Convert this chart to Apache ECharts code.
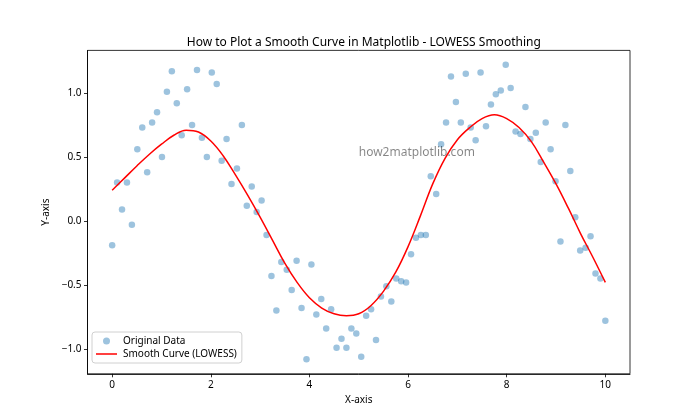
<!DOCTYPE html>
<html><head><meta charset="utf-8">
<script src="https://cdn.jsdelivr.net/npm/echarts@6/dist/echarts.min.js"></script>
<style>html,body{margin:0;padding:0;background:#fff}#c{width:700px;height:420px}</style>
</head><body><div id="c"></div>
<script>
// ---- data ----
const titleText = 'How to Plot a Smooth Curve in Matplotlib - LOWESS Smoothing';
const xAxisName = 'X-axis';
const yAxisName = 'Y-axis';
const watermark = 'how2matplotlib.com';
const xTicks = [0, 2, 4, 6, 8, 10];
const yTicks = [-1.0, -0.5, 0.0, 0.5, 1.0];

const dataX = [0.00,0.10,0.20,0.30,0.40,0.51,0.61,0.71,0.81,0.91,
  1.01,1.11,1.21,1.31,1.41,1.52,1.62,1.72,1.82,1.92,
  2.02,2.12,2.22,2.32,2.42,2.53,2.63,2.73,2.83,2.93,
  3.03,3.13,3.23,3.33,3.43,3.54,3.64,3.74,3.84,3.94,
  4.04,4.14,4.24,4.34,4.44,4.55,4.65,4.75,4.85,4.95,
  5.05,5.15,5.25,5.35,5.45,5.56,5.66,5.76,5.86,5.96,
  6.06,6.16,6.26,6.36,6.46,6.57,6.67,6.77,6.87,6.97,
  7.07,7.17,7.27,7.37,7.47,7.58,7.68,7.78,7.88,7.98,
  8.08,8.18,8.28,8.38,8.48,8.59,8.69,8.79,8.89,8.99,
  9.09,9.19,9.29,9.39,9.49,9.60,9.70,9.80,9.90,10.00];
const dataY = [-0.19,0.30,0.09,0.30,-0.03,0.56,0.73,0.38,0.77,0.85,
  0.50,1.01,1.17,0.92,0.67,1.03,0.75,1.18,0.65,0.50,
  1.16,1.07,0.47,0.64,0.29,0.41,0.75,0.12,0.27,0.07,
  0.16,-0.11,-0.43,-0.70,-0.32,-0.38,-0.54,-0.31,-0.68,-1.08,
  -0.34,-0.73,-0.61,-0.84,-0.69,-0.99,-0.92,-0.99,-0.84,-0.88,
  -1.06,-0.74,-0.69,-0.93,-0.59,-0.51,-0.63,-0.45,-0.47,-0.48,
  -0.26,-0.13,-0.11,-0.11,0.35,0.21,0.60,0.77,1.13,0.93,
  0.77,1.15,0.73,0.63,1.16,0.74,0.91,0.99,1.02,1.22,
  1.04,0.70,0.68,0.89,0.64,0.69,0.46,0.77,0.56,0.31,
  -0.16,0.75,0.39,0.03,-0.23,-0.21,-0.12,-0.41,-0.45,-0.78];

const curveX = [0,0.25,0.5,0.75,1.0,1.25,1.5,1.75,2.0,2.25,2.5,2.75,3.0,3.25,3.5,3.75,4.0,4.25,4.5,4.75,
  5.0,5.25,5.5,5.75,6.0,6.25,6.5,6.75,7.0,7.25,7.5,7.75,8.0,8.25,8.5,8.75,9.0,9.25,9.5,9.75,10.0];
const curveY = [0.24,0.335,0.43,0.52,0.60,0.67,0.71,0.695,0.625,0.51,0.36,0.20,0.03,-0.15,-0.33,-0.48,-0.60,-0.68,-0.725,-0.74,
  -0.725,-0.66,-0.55,-0.40,-0.20,0.04,0.29,0.49,0.635,0.73,0.80,0.83,0.80,0.73,0.62,0.46,0.29,0.10,-0.10,-0.285,-0.48];
const watermarkPos = [5, 0.5];

// ---- chart ----
const FONT = 'Noto Sans';
const chart = echarts.init(document.getElementById('c'), null, {renderer: 'canvas'});
const fmtY = v => (v < 0 ? '\u2212' : '') + Math.abs(v).toFixed(1);
chart.setOption({
  animation: false,
  backgroundColor: '#fff',
  textStyle: {fontFamily: FONT},
  title: {
    text: titleText, left: 358.8, top: 32, textAlign: 'center',
    textStyle: {fontFamily: FONT, fontSize: 12, fontWeight: 'normal', color: '#000'}
  },
  grid: {left: 87.5, right: 70, top: 50.4, bottom: 46.2, show: true, borderColor: '#000', borderWidth: 0.8, backgroundColor: 'transparent'},
  legend: {
    left: 92, top: 332, orient: 'vertical',
    data: [
      {name: 'Original Data', icon: 'circle'},
      {name: 'Smooth Curve (LOWESS)', icon: 'path://M0,0 H21 V1.5 H0 Z'}
    ],
    itemWidth: 21, itemHeight: 7, itemGap: 3,
    padding: [4, 5, 4, 4],
    backgroundColor: 'rgba(255,255,255,0.8)', borderColor: '#d0d0d0', borderWidth: 1, borderRadius: 3,
    textStyle: {fontFamily: FONT, fontSize: 10, color: '#000', padding: [0,0,0,1]}
  },
  xAxis: {
    type: 'value', min: -0.5, max: 10.5,
    name: xAxisName, nameLocation: 'middle', nameGap: 20,
    nameTextStyle: {fontFamily: FONT, fontSize: 10, color: '#000'},
    axisLine: {show: true, onZero: false, lineStyle: {color: '#000', width: 0.8}},
    axisTick: {show: true, length: 3.5, customValues: xTicks, lineStyle: {color: '#000', width: 0.8}},
    axisLabel: {customValues: xTicks, margin: 6, fontFamily: FONT, fontSize: 10, color: '#000'},
    splitLine: {show: false}
  },
  yAxis: {
    type: 'value', min: -1.194, max: 1.333,
    name: yAxisName, nameLocation: 'middle', nameGap: 28, nameRotate: 90,
    nameTextStyle: {fontFamily: FONT, fontSize: 10, color: '#000'},
    axisLine: {show: true, onZero: false, lineStyle: {color: '#000', width: 0.8}},
    axisTick: {show: true, length: 3.5, customValues: yTicks, lineStyle: {color: '#000', width: 0.8}},
    axisLabel: {customValues: yTicks, margin: 6, fontFamily: FONT, fontSize: 10, color: '#000', formatter: fmtY},
    splitLine: {show: false}
  },
  series: [
    {
      name: 'Original Data', type: 'scatter', symbol: 'circle', symbolSize: 6.5,
      itemStyle: {color: 'rgba(31,119,180,0.55)'},
      data: dataX.map((x, i) => [x, dataY[i]]), z: 2
    },
    {
      name: 'Smooth Curve (LOWESS)', type: 'line', symbol: 'none', smooth: 0.4,
      lineStyle: {color: '#ff0000', width: 1.5}, itemStyle: {color: '#ff0000'},
      data: curveX.map((x, i) => [x, curveY[i]]), z: 3
    },
    {
      name: 'wm', type: 'scatter', symbolSize: 0, silent: true,
      data: [watermarkPos],
      label: {show: true, position: 'right', distance: 0, offset: [0, -4], formatter: watermark,
        fontFamily: FONT, fontSize: 12, color: 'rgba(0,0,0,0.6)'},
      z: 4
    }
  ]
});
</script>
</body></html>
